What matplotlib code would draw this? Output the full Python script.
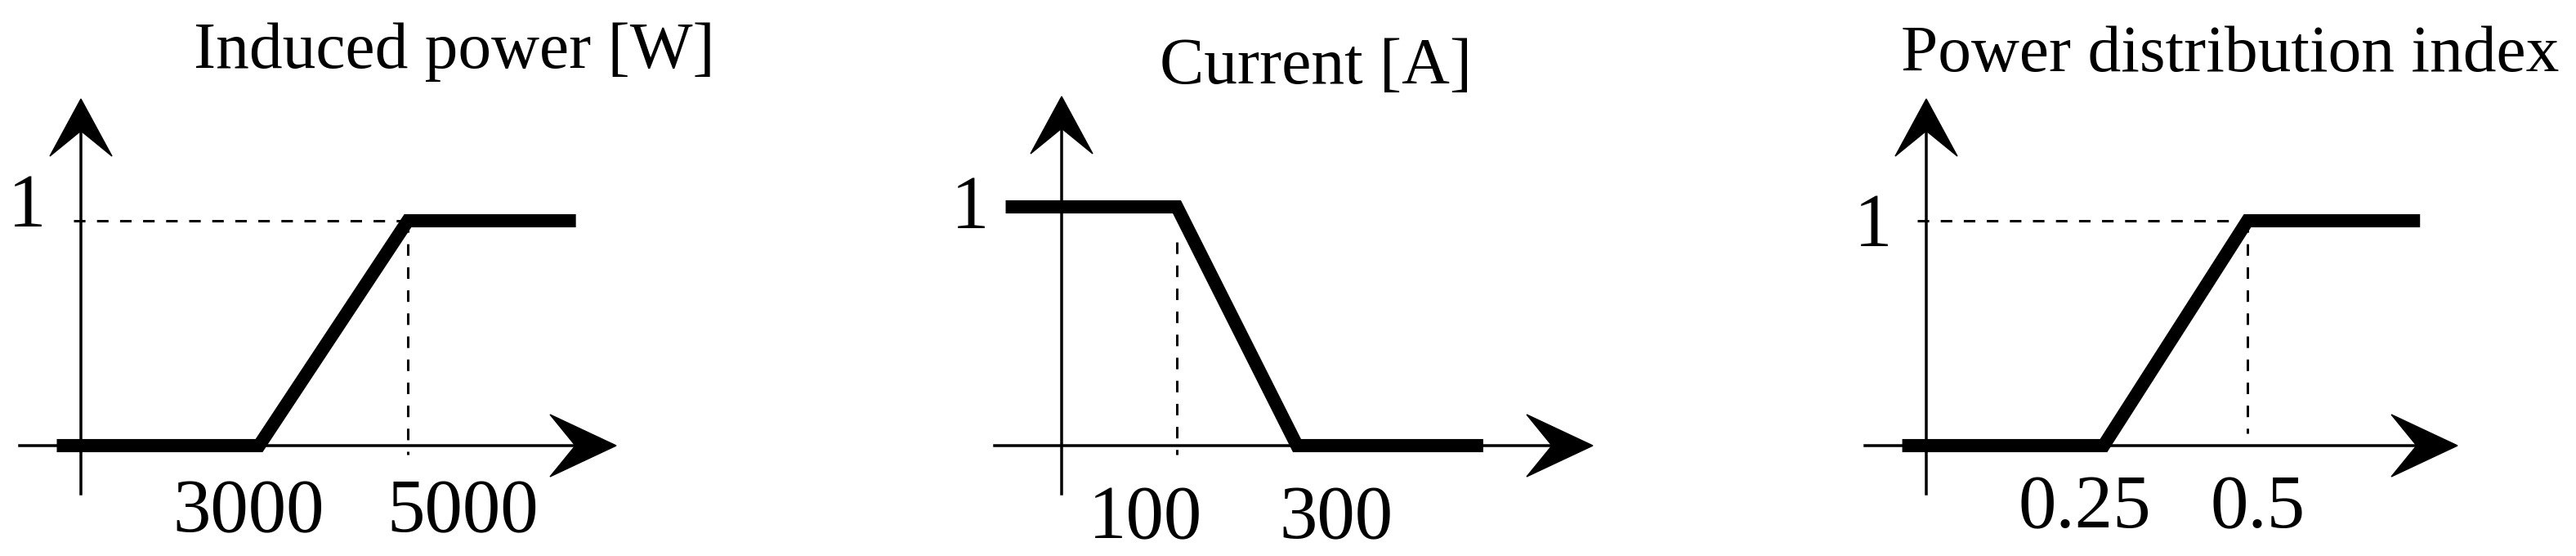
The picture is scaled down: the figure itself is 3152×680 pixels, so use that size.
import matplotlib
matplotlib.use("Agg")
import matplotlib.pyplot as plt
from matplotlib.patches import Polygon
import matplotlib.transforms as mtransforms

W, H, DPI = 3152, 680, 200
plt.rcParams["font.family"] = ["Liberation Serif", "DejaVu Serif"]

# --- membership functions (breakpoints, degree) ---
power_x = [280, 3000, 5000, 7260]
power_mu = [0, 0, 1, 1]
power_ticks = [3000, 5000]
power_labels = ["3000", "5000"]

current_x = [-185, 100, 300, 610]
current_mu = [1, 1, 0, 0]
current_ticks = [100, 300]
current_labels = ["100", "300"]

pdi_x = [-0.1, 0.25, 0.5, 0.8]
pdi_mu = [0, 0, 1, 1]
pdi_ticks = [0.25, 0.5]
pdi_labels = ["0.25", "0.5"]

titles = ["Induced power [W]", "Current [A]", "Power distribution index"]

# --- layout in figure pixels (y measured from top) ---
AXIS_PY = 545
layout = [
    dict(box=(0, 1050), knee_px=(317, 499), one_py=270, yaxis_px=99, ytop=121,
         ybot=604, xstart=24, xtip=754, title=(556, 83), one_lbl=(33, 277),
         tick_lbl=(304, 566), tick_base=650, hdash_from=90, vdash=(270, 556)),
    dict(box=(1050, 2100), knee_px=(1440, 1587), one_py=253, yaxis_px=1299, ytop=118,
         ybot=604, xstart=1217, xtip=1949, title=(1610, 102), one_lbl=(1187, 279),
         tick_lbl=(1401, 1635), tick_base=658, hdash_from=None, vdash=(296, 556)),
    dict(box=(2100, 3152), knee_px=(2574, 2750), one_py=270, yaxis_px=2357, ytop=121,
         ybot=604, xstart=2282, xtip=3007, title=(2729, 87), one_lbl=(2292, 301),
         tick_lbl=(2551, 2763), tick_base=645, hdash_from=2346, vdash=(270, 530)),
]

fig = plt.figure(figsize=(W / DPI, H / DPI), dpi=DPI)
ft = fig.transFigure


def fp(px, py):
    return (px / W, 1 - py / H)


def arrow(tip, direction, length, half, notch):
    # stealth-style arrowhead drawn in figure pixels
    tx, ty = tip
    if direction == "up":
        pts = [(tx, ty), (tx - half, ty + length), (tx, ty + notch), (tx + half, ty + length)]
    else:
        pts = [(tx, ty), (tx - length, ty - half), (tx - notch, ty), (tx - length, ty + half)]
    fig.patches.append(Polygon([fp(*p) for p in pts], closed=True, transform=ft,
                               facecolor="black", edgecolor="black", lw=0.5))


series = [(power_x, power_mu, power_ticks, power_labels),
          (current_x, current_mu, current_ticks, current_labels),
          (pdi_x, pdi_mu, pdi_ticks, pdi_labels)]

for (xs, mu, ticks, labels), L, title in zip(series, layout, titles):
    left, right = L["box"]
    ax = fig.add_axes([left / W, 0, (right - left) / W, 1])
    ax.axis("off")
    # scale so that the two breakpoints land where they are in the figure
    b = (L["knee_px"][1] - L["knee_px"][0]) / (ticks[1] - ticks[0])
    ax.set_xlim(ticks[0] - (L["knee_px"][0] - left) / b,
                ticks[0] + (right - L["knee_px"][0]) / b)
    c = AXIS_PY - L["one_py"]
    ax.set_ylim(-(H - AXIS_PY) / c, AXIS_PY / c)

    def px2x(px):
        return ticks[0] + (px - L["knee_px"][0]) / b

    # axes with arrows
    fig.lines.append(plt.Line2D([L["yaxis_px"] / W] * 2,
                                [1 - L["ybot"] / H, 1 - (L["ytop"] + 20) / H],
                                transform=ft, color="black", lw=1.26))
    fig.lines.append(plt.Line2D([L["xstart"] / W, (L["xtip"] - 20) / W],
                                [1 - AXIS_PY / H] * 2,
                                transform=ft, color="black", lw=1.26))
    arrow((L["yaxis_px"], L["ytop"]), "up", 70, 38, 39)
    arrow((L["xtip"], AXIS_PY), "right", 81, 38, 50)

    # dashed guides at the knee with full membership
    knee = xs[2] if mu[2] == 1 else xs[1]
    if L["hdash_from"] is not None:
        ax.plot([px2x(L["hdash_from"]), knee], [1, 1], color="black", lw=1.08,
                dashes=(4.7, 4.7))
    bt = mtransforms.blended_transform_factory(ax.transData, ft)
    ax.plot([knee, knee], [1 - L["vdash"][0] / H, 1 - L["vdash"][1] / H],
            transform=bt, color="black", lw=1.08, dashes=(4.7, 4.7))

    # membership function
    ax.plot(xs, mu, color="black", lw=5.8, solid_capstyle="butt",
            solid_joinstyle="miter", zorder=5)

    # texts
    fig.text(*fp(*L["title"]), title, ha="center", va="baseline", fontsize=29.3)
    fig.text(*fp(*L["one_lbl"]), "1", ha="center", va="baseline", fontsize=33.5)
    for lx, lab in zip(L["tick_lbl"], labels):
        fig.text(*fp(lx, L["tick_base"]), lab, ha="center", va="baseline",
                 fontsize=33.5)

fig.savefig("out.png", dpi=DPI, facecolor="white")
